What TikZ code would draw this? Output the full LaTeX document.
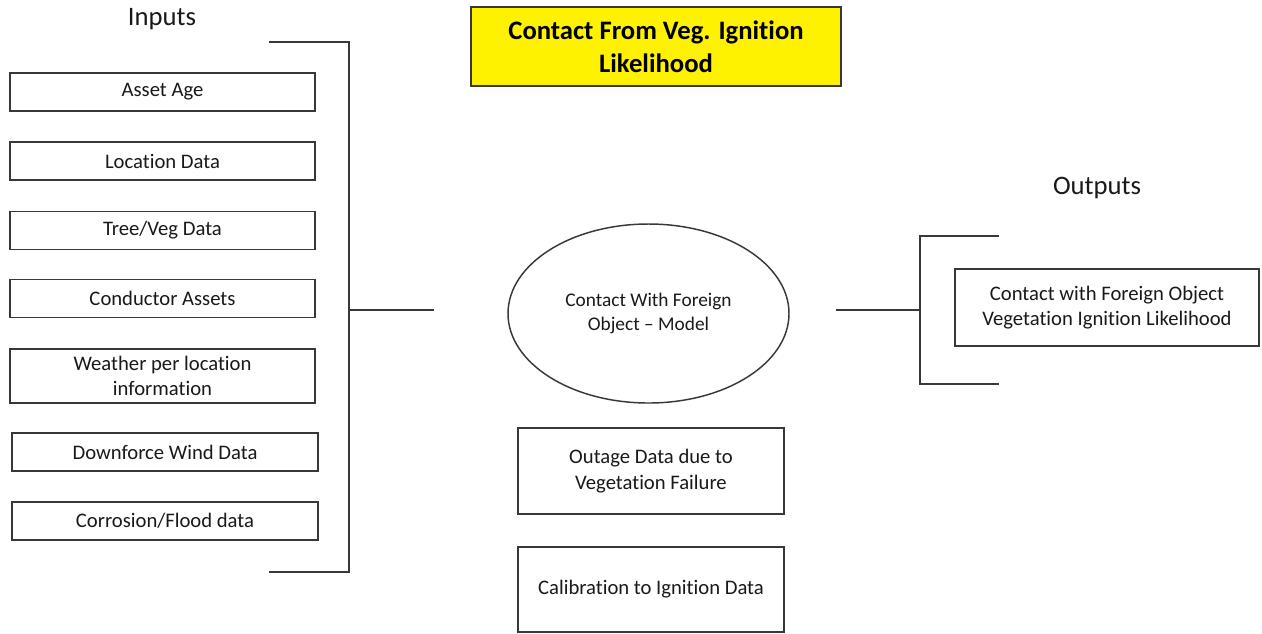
\documentclass[tikz,border=0pt]{standalone}
\usepackage{fontspec}
\setmainfont{Carlito}[Ligatures={NoCommon}]
\usetikzlibrary{shapes.geometric}
\begin{document}
\begin{tikzpicture}[x=0.75pt,y=-0.75pt,
  line/.style={draw=black!78,line width=1.1pt},
  inbox/.style={rectangle,draw=black!78,line width=1.1pt,inner sep=0pt,align=center,
    font=\fontsize{15.5}{19}\selectfont,text=black!90},
  title/.style={font=\fontsize{20}{24}\selectfont,text=black!90},
]
\useasboundingbox (0,0) rectangle (1262,633);
% titles
\node[title] (tin) at (162,19) {Inputs};
\node[title] (tout) at (1097,188) {Outputs};
\node[rectangle,draw=black!78,line width=1.1pt,fill=yellow,inner sep=0pt,
  minimum width=277.5pt,minimum height=59.25pt,align=center,
  font=\bfseries\fontsize{20}{24.75}\selectfont] (head) at (656,46.5)
  {Contact From Veg. Ignition\\Likelihood};
% inputs
\node[inbox,minimum width=228.75pt,minimum height=28.5pt] (i1) at (162.5,92) {Asset Age};
\node[inbox,minimum width=228.75pt,minimum height=28.5pt] (i2) at (162.5,161) {Location Data};
\node[inbox,minimum width=228.75pt,minimum height=28.5pt] (i3) at (162.5,230.5) {Tree/Veg Data};
\node[inbox,minimum width=228.75pt,minimum height=28.5pt] (i4) at (162.5,298.5) {Conductor Assets};
\node[inbox,minimum width=228.75pt,minimum height=40.5pt] (i5) at (162.5,376) {Weather per location\\information};
\node[inbox,minimum width=229.5pt,minimum height=28.5pt] (i6) at (165,452) {Downforce Wind Data};
\node[inbox,minimum width=229.5pt,minimum height=28.5pt] (i7) at (165,521) {Corrosion/Flood data};
% model
\node[ellipse,draw=black!78,line width=1.1pt,inner sep=0pt,minimum width=210.75pt,
  minimum height=134.25pt,align=center,font=\fontsize{14.5}{17.8}\selectfont,text=black!90]
  (model) at (648.5,313.5) {Contact With Foreign\\Object -- Model};
\node[inbox,minimum width=199.5pt,minimum height=64.5pt] (outage) at (651,471)
  {Outage Data due to\\Vegetation Failure};
\node[inbox,minimum width=199.5pt,minimum height=63.75pt] (calib) at (651,589.5)
  {Calibration to Ignition Data};
% output
\node[inbox,minimum width=228pt,minimum height=57.75pt] (out) at (1107,307.5)
  {Contact with Foreign Object\\Vegetation Ignition Likelihood};
% input bracket
\coordinate (bt) at (269,42);
\coordinate (btc) at (349,42);
\coordinate (bb) at (269,572);
\coordinate (bbc) at (349,572);
\coordinate (bm) at (349,310);
\coordinate (bmend) at (434,310);
\draw[line] (bt) -- (btc) -- (bbc) -- (bb);
\draw[line] (bm) -- (bmend);
% output bracket
\coordinate (rs) at (836,310);
\coordinate (rm) at (920,310);
\coordinate (rt) at (920,236);
\coordinate (rte) at (999,236);
\coordinate (rb) at (920,384);
\coordinate (rbe) at (999,384);
\draw[line] (rs) -- (rm);
\draw[line] (rte) -- (rt) -- (rb) -- (rbe);
\end{tikzpicture}
\end{document}
